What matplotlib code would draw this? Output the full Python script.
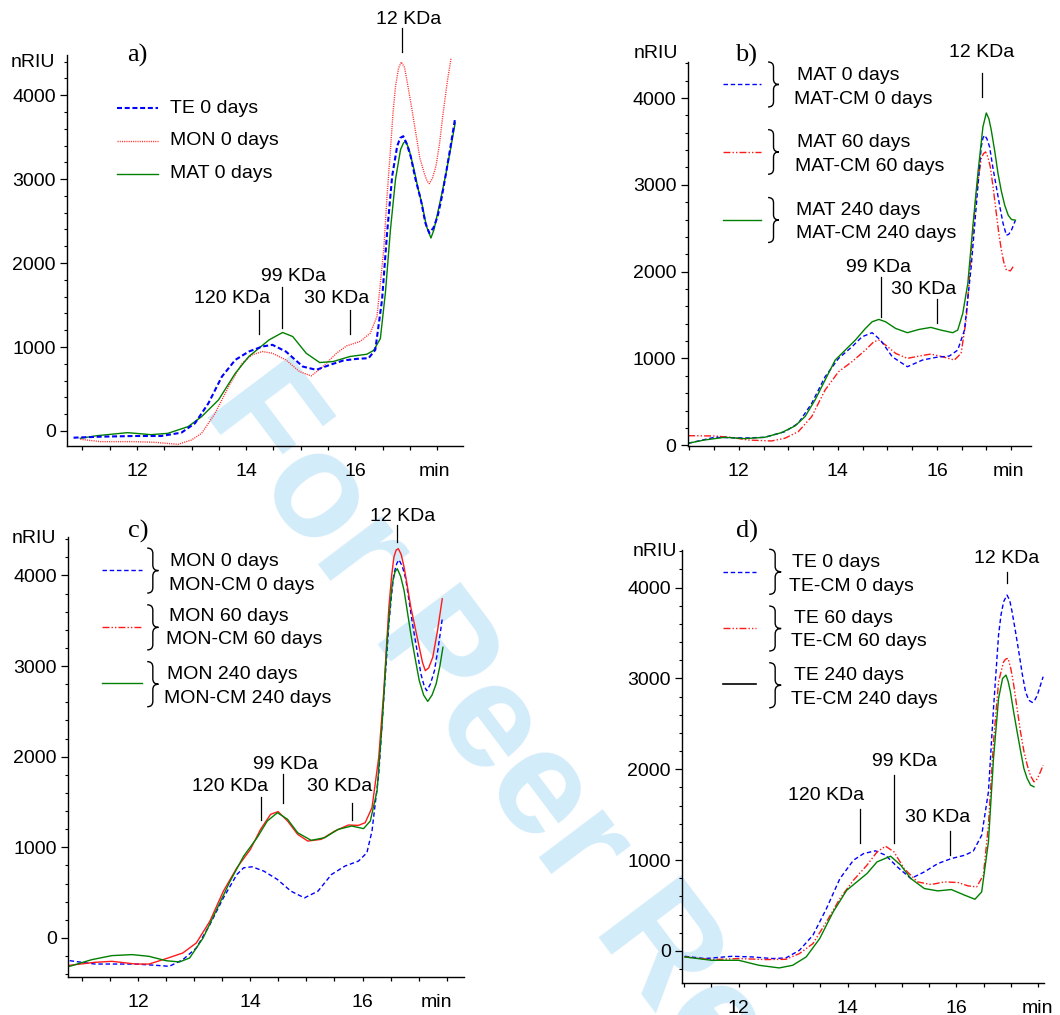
import matplotlib
matplotlib.use("Agg")
import matplotlib.pyplot as plt
from matplotlib.path import Path
from matplotlib.patches import PathPatch
from matplotlib.ticker import MultipleLocator, FixedLocator

plt.rcParams['font.family'] = ['Liberation Sans', 'DejaVu Sans']
plt.rcParams['font.size'] = 14

# ---------------- data (retention time in min, signal in nRIU) ----------------
# Panel a
a_te_x = [10.84, 11.333, 11.951, 12.444, 12.815, 13.062, 13.309, 13.556, 13.802, 14.049, 14.296, 14.481,
          14.728, 15.037, 15.284, 15.531, 15.778, 16.025, 16.241, 16.364, 16.488, 16.58, 16.673, 16.765,
          16.82, 16.877, 16.94, 17.012, 17.1, 17.198, 17.28, 17.352, 17.43, 17.506, 17.58, 17.66, 17.74, 17.827]
a_te_y = [-80, -68, -60, -60, -20, 91, 330, 648, 847, 946, 1006, 1026, 946, 767, 728, 787, 839, 859, 867,
          966, 1563, 2358, 3034, 3392, 3490, 3511, 3420, 3272, 3000, 2755, 2480, 2358, 2420, 2557, 2780,
          3073, 3380, 3730]
a_mon_x = [10.963, 11.333, 11.951, 12.321, 12.753, 13.0, 13.185, 13.432, 13.679, 13.926, 14.111, 14.296,
           14.481, 14.728, 14.975, 15.191, 15.407, 15.654, 15.84, 16.086, 16.272, 16.395, 16.519, 16.58,
           16.642, 16.69, 16.735, 16.79, 16.84, 16.9, 16.951, 17.03, 17.105, 17.18, 17.259, 17.31, 17.352,
           17.41, 17.475, 17.54, 17.599, 17.68, 17.753]
a_mon_y = [-99, -127, -127, -135, -159, -107, -28, 211, 529, 807, 907, 946, 926, 847, 708, 656, 767, 926,
           1014, 1066, 1165, 1364, 2159, 2800, 3352, 3800, 4107, 4320, 4394, 4330, 4147, 3850, 3551, 3250,
           3073, 2980, 2946, 3010, 3153, 3420, 3750, 4150, 4445]
a_mat_x = [10.963, 11.272, 11.827, 12.259, 12.568, 12.938, 13.185, 13.494, 13.802, 14.049, 14.235, 14.42,
           14.667, 14.852, 15.099, 15.346, 15.593, 15.901, 16.21, 16.333, 16.457, 16.55, 16.642, 16.735,
           16.827, 16.88, 16.92, 16.98, 17.074, 17.15, 17.228, 17.3, 17.383, 17.44, 17.506, 17.58, 17.66,
           17.74, 17.827]
a_mat_y = [-87, -56, -20, -44, -28, 52, 171, 370, 688, 887, 986, 1085, 1173, 1125, 926, 815, 827, 887, 914,
           960, 1100, 1650, 2400, 3000, 3352, 3430, 3451, 3360, 3113, 2880, 2676, 2440, 2298, 2400, 2596,
           2820, 3073, 3350, 3670]

# Panel b
b_0_x = [10.976, 11.505, 12.115, 12.522, 12.929, 13.2, 13.471, 13.742, 14.014, 14.285, 14.488, 14.692,
         14.861, 15.098, 15.403, 15.708, 15.98, 16.251, 16.42, 16.556, 16.692, 16.793, 16.895, 16.93,
         16.963, 17.01, 17.064, 17.13, 17.2, 17.27, 17.336, 17.403, 17.45, 17.505, 17.586]
b_0_y = [23, 92, 84, 92, 157, 253, 483, 790, 1001, 1135, 1250, 1297, 1212, 1020, 905, 982, 1013, 1028,
         1097, 1327, 2056, 2746, 3437, 3540, 3571, 3530, 3437, 3200, 2977, 2750, 2555, 2420, 2430, 2478, 2593]
b_60_x = [10.976, 11.505, 11.844, 12.183, 12.658, 12.929, 13.2, 13.471, 13.742, 14.014, 14.285, 14.556,
          14.725, 14.827, 14.963, 15.166, 15.403, 15.641, 15.878, 16.115, 16.353, 16.488, 16.59, 16.692,
          16.793, 16.895, 16.94, 16.983, 17.03, 17.078, 17.14, 17.2, 17.25, 17.302, 17.35, 17.403, 17.485,
          17.559]
b_60_y = [111, 107, 92, 61, 50, 81, 157, 330, 637, 848, 963, 1097, 1193, 1212, 1155, 1059, 1001, 1028,
          1051, 1020, 982, 1059, 1442, 2209, 2900, 3303, 3360, 3379, 3320, 3207, 2950, 2670, 2440, 2248,
          2110, 2018, 2010, 2075]
b_240_x = [10.976, 11.302, 11.708, 12.115, 12.522, 12.861, 13.132, 13.336, 13.539, 13.742, 13.946, 14.149,
           14.353, 14.556, 14.692, 14.827, 14.963, 15.166, 15.403, 15.641, 15.878, 16.081, 16.319, 16.42,
           16.522, 16.624, 16.725, 16.827, 16.929, 16.997, 17.05, 17.098, 17.17, 17.234, 17.3, 17.369,
           17.44, 17.505, 17.586]
b_240_y = [23, 61, 92, 77, 92, 146, 222, 330, 522, 752, 982, 1097, 1212, 1346, 1423, 1450, 1423, 1346,
           1297, 1335, 1358, 1327, 1297, 1327, 1519, 1864, 2516, 3130, 3667, 3828, 3760, 3629, 3380, 3130,
           2930, 2766, 2650, 2601, 2593]

# Panel c
c_0_x = [10.777, 11.229, 11.952, 12.313, 12.554, 12.795, 13.036, 13.277, 13.518, 13.759, 13.88, 14.03,
         14.241, 14.482, 14.723, 14.964, 15.205, 15.446, 15.687, 15.928, 16.078, 16.169, 16.289, 16.38,
         16.47, 16.52, 16.56, 16.61, 16.651, 16.71, 16.771, 16.83, 16.892, 16.97, 17.042, 17.1, 17.145,
         17.21, 17.283, 17.35, 17.422]
c_0_y = [-251, -288, -288, -302, -313, -240, -111, 147, 442, 700, 774, 785, 737, 645, 516, 442, 516, 700,
         793, 848, 940, 1180, 1806, 2654, 3465, 3800, 4018, 4130, 4173, 4100, 3963, 3720, 3465, 3180, 2912,
         2780, 2728, 2800, 2949, 3200, 3521]
c_60_x = [10.777, 11.229, 11.53, 11.952, 12.193, 12.494, 12.795, 13.036, 13.277, 13.518, 13.759, 14.0,
          14.181, 14.361, 14.494, 14.663, 14.843, 15.024, 15.265, 15.506, 15.747, 15.928, 16.048, 16.169,
          16.289, 16.38, 16.47, 16.52, 16.56, 16.6, 16.639, 16.69, 16.741, 16.8, 16.861, 16.94, 17.012,
          17.07, 17.12, 17.18, 17.253, 17.34, 17.422]
c_60_y = [-302, -269, -258, -288, -288, -229, -166, -55, 184, 516, 774, 977, 1198, 1364, 1394, 1290, 1143,
          1069, 1088, 1180, 1246, 1242, 1272, 1438, 1991, 2728, 3650, 4000, 4203, 4280, 4295, 4230, 4092,
          3880, 3650, 3420, 3207, 3040, 2949, 2980, 3097, 3400, 3742]
c_240_x = [10.777, 11.169, 11.53, 11.892, 12.193, 12.494, 12.735, 12.916, 13.157, 13.398, 13.639, 13.88,
           14.12, 14.301, 14.482, 14.663, 14.843, 15.084, 15.325, 15.566, 15.807, 16.018, 16.139, 16.259,
           16.349, 16.44, 16.49, 16.53, 16.58, 16.62, 16.68, 16.741, 16.8, 16.861, 16.94, 17.012, 17.09,
           17.163, 17.24, 17.313, 17.38, 17.434]
c_240_y = [-313, -240, -195, -184, -203, -251, -265, -221, 0, 313, 627, 903, 1106, 1290, 1382, 1309, 1161,
           1077, 1106, 1198, 1235, 1206, 1290, 1622, 2359, 3281, 3650, 3908, 4040, 4074, 3990, 3834, 3600,
           3355, 3080, 2839, 2680, 2610, 2680, 2802, 3000, 3207]

# Panel d
d_0_x = [11.008, 11.38, 11.876, 12.248, 12.62, 12.868, 13.116, 13.364, 13.612, 13.86, 14.109, 14.295,
         14.512, 14.698, 14.915, 15.163, 15.411, 15.659, 15.907, 16.155, 16.31, 16.465, 16.589, 16.682,
         16.775, 16.82, 16.868, 16.93, 16.98, 17.023, 17.085, 17.147, 17.21, 17.271, 17.33, 17.395, 17.44,
         17.488, 17.594]
d_0_y = [-59, -84, -59, -66, -84, -77, 7, 173, 466, 797, 999, 1072, 1102, 1054, 925, 797, 870, 962, 1017,
         1054, 1098, 1274, 1752, 2670, 3478, 3700, 3845, 3918, 3860, 3735, 3520, 3294, 3050, 2853, 2760,
         2736, 2760, 2817, 3019]
d_60_x = [11.008, 11.504, 12.0, 12.496, 12.868, 13.116, 13.364, 13.612, 13.86, 14.109, 14.357, 14.543,
          14.698, 14.853, 15.039, 15.287, 15.535, 15.783, 16.031, 16.217, 16.372, 16.496, 16.589, 16.682,
          16.775, 16.868, 16.91, 16.949, 17.0, 17.054, 17.12, 17.178, 17.24, 17.302, 17.36, 17.426, 17.47,
          17.519, 17.594]
d_60_y = [-66, -95, -84, -95, -92, -29, 81, 320, 577, 779, 944, 1091, 1153, 1091, 907, 760, 731, 760, 753,
          716, 705, 834, 1385, 2303, 2964, 3184, 3215, 3221, 3110, 2927, 2650, 2413, 2200, 2046, 1930, 1862,
          1880, 1935, 2046]
d_240_x = [11.008, 11.504, 12.0, 12.372, 12.744, 12.992, 13.24, 13.488, 13.736, 13.984, 14.171, 14.357,
           14.543, 14.791, 14.977, 15.163, 15.411, 15.659, 15.907, 16.155, 16.341, 16.465, 16.589, 16.682,
           16.775, 16.849, 16.911, 16.95, 16.992, 17.05, 17.116, 17.18, 17.24, 17.3, 17.364, 17.426]
d_240_y = [-66, -103, -103, -158, -187, -158, -66, 136, 430, 668, 760, 852, 981, 1043, 944, 797, 687, 661,
           676, 613, 569, 650, 1201, 2119, 2780, 3000, 3037, 2970, 2854, 2640, 2413, 2200, 2009, 1900, 1825,
           1807]

y_ticks = [0, 1000, 2000, 3000, 4000]
x_ticks = [12, 14, 16]
x_tick_labels = ['12', '14', '16']

a_labels = ['TE 0 days', 'MON 0 days', 'MAT 0 days']
b_labels = [('MAT 0 days', 'MAT-CM 0 days'), ('MAT 60 days', 'MAT-CM 60 days'),
            ('MAT 240 days', 'MAT-CM 240 days')]
c_labels = [('MON 0 days', 'MON-CM 0 days'), ('MON 60 days', 'MON-CM 60 days'),
            ('MON 240 days', 'MON-CM 240 days')]
d_labels = [('TE 0 days', 'TE-CM 0 days'), ('TE 60 days', 'TE-CM 60 days'),
            ('TE 240 days', 'TE-CM 240 days')]

# ---------------- styles ----------------
BLUE = '#0000ff'
RED = '#ff1a1a'
GREEN = '#008000'
s_dash_thick = dict(color=BLUE, lw=1.5, dashes=(2.4, 1.3))
s_dash = dict(color=BLUE, lw=1.0, dashes=(3.2, 2.0))
s_dot = dict(color='#ff3333', lw=1.0, dashes=(0.8, 0.8))
s_ddot = dict(color=RED, lw=1.0, dashes=(5, 1.5, 1, 1.5, 1, 1.5))
s_solid_g = dict(color=GREEN, lw=1.0)
s_solid_r = dict(color=RED, lw=1.0)

W, H = 1060, 1015
fig = plt.figure(figsize=(W / 100, H / 100), dpi=100)


def px_axes(l, r, t, b):
    return fig.add_axes([l / W, 1 - b / H, (r - l) / W, (b - t) / H])


def style_axes(ax, xlim, ylim, min_x, label_x, label_y, panel, panel_xy):
    ax.set_xlim(*xlim)
    ax.set_ylim(*ylim)
    ax.patch.set_alpha(0)
    for s in ('top', 'right'):
        ax.spines[s].set_visible(False)
    for s in ('left', 'bottom'):
        ax.spines[s].set_linewidth(1.0)
    ax.xaxis.set_major_locator(FixedLocator(x_ticks))
    ax.set_xticklabels(x_tick_labels)
    ax.xaxis.set_minor_locator(MultipleLocator(0.5))
    ax.yaxis.set_major_locator(FixedLocator(y_ticks))
    ax.yaxis.set_minor_locator(MultipleLocator(200))
    ax.tick_params(axis='x', which='both', direction='out', length=3, width=0.9, pad=9, labelsize=14)
    ax.tick_params(axis='y', which='major', direction='out', length=5, width=0.9, pad=3, labelsize=14)
    ax.tick_params(axis='y', which='minor', direction='out', length=2.5, width=0.8)
    ax.annotate('min', xy=(min_x, 0), xycoords=('data', 'axes fraction'), xytext=(0, -12),
                textcoords='offset points', ha='center', va='top', fontsize=14)
    ax.text(label_x, label_y, 'nRIU', ha='center', va='center', fontsize=14, clip_on=False)
    ax.text(panel_xy[0], panel_xy[1], panel, ha='center', va='center', fontsize=19,
            family=['Liberation Serif', 'DejaVu Serif'], clip_on=False)


def marker_line(ax, x, y0, y1, tx, ty, label):
    ax.plot([x, x], [y0, y1], color='black', lw=0.9, clip_on=False)
    ax.text(tx, ty, label, ha='center', va='center', fontsize=14, clip_on=False)


def brace(ax, x0, ytop, ybot, w, r):
    xm = x0 + w / 2
    x1 = x0 + w
    ym = (ytop + ybot) / 2
    verts = [(x0, ytop), (xm, ytop), (xm, ytop - r),
             (xm, ym + r), (xm, ym), (x1, ym),
             (xm, ym), (xm, ym - r),
             (xm, ybot + r), (xm, ybot), (x0, ybot)]
    codes = [Path.MOVETO, Path.CURVE3, Path.CURVE3,
             Path.LINETO, Path.CURVE3, Path.CURVE3,
             Path.CURVE3, Path.CURVE3,
             Path.LINETO, Path.CURVE3, Path.CURVE3]
    ax.add_patch(PathPatch(Path(verts, codes), fill=False, lw=1.0, color='black', clip_on=False))


def brace_legend(ax, line_x, line_ys, styles, brace_x, brace_w, brace_r, spans, texts, text_pos):
    for ly, st in zip(line_ys, styles):
        ax.plot(line_x, [ly, ly], clip_on=False, **st)
    for (yt, yb) in spans:
        brace(ax, brace_x, yt, yb, brace_w, brace_r)
    for (t1, t2), ((x1, y1), (x2, y2)) in zip(texts, text_pos):
        ax.text(x1, y1, t1, ha='left', va='center', fontsize=14, clip_on=False)
        ax.text(x2, y2, t2, ha='left', va='center', fontsize=14, clip_on=False)


# watermark
fig.text(583 / W, 1 - 852 / H, 'For Peer Review', fontsize=108, fontweight='bold',
         color='#d3ecfa', rotation=-53, ha='center', va='center', rotation_mode='anchor', zorder=-1)

# ---------------- panel a ----------------
ax = px_axes(67, 463, 55, 446)
style_axes(ax, (10.72, 17.97), (-179, 4478), 17.44, 10.1, 4390, 'a)', (12.0, 4470))
ax.plot(a_mon_x, a_mon_y, **s_dot)
ax.plot(a_mat_x, a_mat_y, **s_solid_g)
ax.plot(a_te_x, a_te_y, **s_dash_thick)
for ly, st, lab in zip([3841, 3455, 3065], [s_dash_thick, s_dot, s_solid_g], a_labels):
    ax.plot([11.63, 12.38], [ly, ly], clip_on=False, **st)
    ax.text(12.6, ly, lab, ha='left', va='center', fontsize=14)
marker_line(ax, 16.86, 4509, 4796, 16.98, 4900, '12 KDa')
marker_line(ax, 14.65, 1226, 1715, 14.87, 1835, '99 KDa')
marker_line(ax, 14.24, 1154, 1445, 13.74, 1572, '120 KDa')
marker_line(ax, 15.90, 1154, 1445, 15.65, 1572, '30 KDa')

# ---------------- panel b ----------------
ax = px_axes(687.5, 1031, 62, 446)
style_axes(ax, (10.963, 17.90), (-8, 4415), 17.44, 10.32, 4511, 'b)', (12.15, 4492))
ax.plot(b_60_x, b_60_y, **s_ddot)
ax.plot(b_0_x, b_0_y, **s_dash)
ax.plot(b_240_x, b_240_y, **s_solid_g)
brace_legend(ax, [11.67, 12.45], [4158, 3379, 2593], [s_dash, s_ddot, s_solid_g],
             12.59, 0.22, 60, [(4415, 3897), (3636, 3122), (2854, 2336)], b_labels,
             [((13.17, 4262), (13.12, 3985)), ((13.18, 3483), (13.13, 3214)),
              ((13.15, 2708), (13.15, 2440))])
marker_line(ax, 16.92, 4012, 4288, 16.90, 4530, '12 KDa')
marker_line(ax, 14.87, 1481, 1941, 14.83, 2045, '99 KDa')
marker_line(ax, 16.0, 1404, 1684, 15.74, 1795, '30 KDa')

# ---------------- panel c ----------------
ax = px_axes(68, 464, 537, 977)
style_axes(ax, (10.747, 17.81), (-431, 4424), 17.31, 10.14, 4406, 'c)', (12.0, 4490))
ax.plot(c_0_x, c_0_y, **s_dash)
ax.plot(c_60_x, c_60_y, **s_solid_r)
ax.plot(c_240_x, c_240_y, **s_solid_g)
brace_legend(ax, [11.35, 12.06], [4055, 3429, 2809],
             [s_dash, dict(color=RED, lw=1.0, dashes=(5, 1.5, 1, 1.5, 1, 1.5)), s_solid_g],
             12.16, 0.2, 60, [(4302, 3805), (3676, 3178), (3049, 2551)], c_labels,
             [((12.57, 4155), (12.54, 3889)), ((12.54, 3546), (12.49, 3288)),
              ((12.51, 2912), (12.46, 2647))])
marker_line(ax, 16.61, 4369, 4553, 16.71, 4653, '12 KDa')
marker_line(ax, 14.59, 1493, 1814, 14.62, 1910, '99 KDa')
marker_line(ax, 14.19, 1298, 1556, 13.63, 1666, '120 KDa')
marker_line(ax, 15.81, 1298, 1493, 15.60, 1666, '30 KDa')

# ---------------- panel d ----------------
ax = px_axes(682, 1044, 550, 983)
style_axes(ax, (10.958, 17.61), (-353, 4414), 17.49, 10.46, 4396, 'd)', (12.16, 4616))
ax.plot(d_0_x, d_0_y, **s_dash)
ax.plot(d_60_x, d_60_y, **s_ddot)
ax.plot(d_240_x, d_240_y, **s_solid_g)
brace_legend(ax, [11.72, 12.32], [4168, 3551, 2934],
             [s_dash, s_ddot, dict(color='black', lw=1.2)],
             12.56, 0.22, 60, [(4422, 3926), (3797, 3302), (3173, 2677)], d_labels,
             [((12.98, 4275), (12.93, 4010)), ((13.01, 3661), (12.96, 3404)),
              ((13.01, 3037), (12.96, 2773))])
marker_line(ax, 16.93, 4047, 4176, 16.93, 4322, '12 KDa')
marker_line(ax, 14.85, 1183, 1935, 15.04, 2090, '99 KDa')
marker_line(ax, 14.22, 1190, 1568, 13.60, 1708, '120 KDa')
marker_line(ax, 15.89, 1061, 1318, 15.66, 1465, '30 KDa')

fig.savefig('out.png', dpi=100)
